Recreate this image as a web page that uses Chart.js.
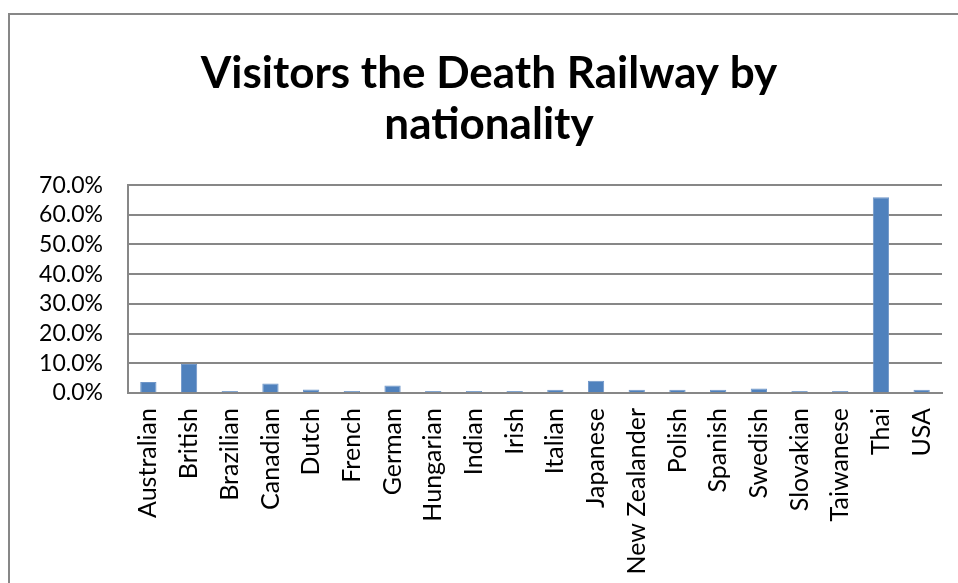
<!DOCTYPE html>
<html>
<head>
<meta charset="utf-8">
<script src="https://cdn.jsdelivr.net/npm/chart.js@4/dist/chart.umd.min.js"></script>
<style>
  html, body { margin: 0; padding: 0; background: #fff; overflow: hidden; }
  #wrap { position: relative; width: 958px; height: 583px; }
  #frame { position: absolute; left: 8px; top: 13px; width: 2000px; height: 2000px;
           border-left: 2px solid #878787; border-top: 2px solid #878787; pointer-events: none; }
  canvas { position: absolute; left: 0; top: 0; }
</style>
</head>
<body>
<div id="wrap">
  <canvas id="c" width="958" height="583"></canvas>
  <div id="frame"></div>
</div>
<script>
const titleLines = ['Visitors the Death Railway by', 'nationality'];
const categories = ['Australian', 'British', 'Brazilian', 'Canadian', 'Dutch', 'French', 'German',
  'Hungarian', 'Indian', 'Irish', 'Italian', 'Japanese', 'New Zealander', 'Polish', 'Spanish',
  'Swedish', 'Slovakian', 'Taiwanese', 'Thai', 'USA'];
const shares = [3.7, 9.8, 0.7, 3.2, 1.2, 0.7, 2.5, 0.7, 0.7, 0.7, 1.1, 4.1, 1.1, 1.1, 1.1,
  1.5, 0.7, 0.7, 65.9, 1.1];
const yTicks = [0, 10, 20, 30, 40, 50, 60, 70];

const FONT = 'Lato, "Open Sans", sans-serif';

new Chart(document.getElementById('c'), {
  type: 'bar',
  data: {
    labels: categories,
    datasets: [{
      data: shares,
      backgroundColor: '#4F81BD',
      borderColor: '#6f96c8',
      borderWidth: 1,
      barPercentage: 0.4,
      categoryPercentage: 1.0
    }]
  },
  options: {
    responsive: false,
    animation: false,
    devicePixelRatio: 1,
    layout: { padding: { left: 36, right: 16, top: 0, bottom: 0 } },
    plugins: {
      legend: { display: false },
      tooltip: { enabled: false },
      title: {
        display: true,
        text: titleLines,
        color: '#000',
        font: { family: FONT, size: 44, weight: 'bold', lineHeight: 1.16 },
        padding: { top: 48, bottom: 35 }
      }
    },
    scales: {
      x: {
        grid: { display: false, drawTicks: false },
        border: { display: true, color: '#878787', width: 2 },
        ticks: {
          color: '#000',
          font: { family: FONT, size: 25 },
          minRotation: 90, maxRotation: 90,
          autoSkip: false,
          padding: 15
        },
        afterFit: (s) => { s.height = 190; s.paddingLeft = 0; s.paddingRight = 0; }
      },
      y: {
        min: 0, max: 70,
        afterBuildTicks: (s) => { s.ticks = yTicks.map(v => ({ value: v })); },
        grid: { color: '#878787', lineWidth: 2, drawTicks: false },
        border: { display: true, color: '#878787', width: 2 },
        ticks: {
          color: '#000',
          font: { family: FONT, size: 23 },
          padding: 25,
          autoSkip: false,
          callback: (v) => v.toFixed(1) + '%'
        },
        afterFit: (s) => { s.width = 92; }
      }
    }
  }
});
</script>
</body>
</html>
